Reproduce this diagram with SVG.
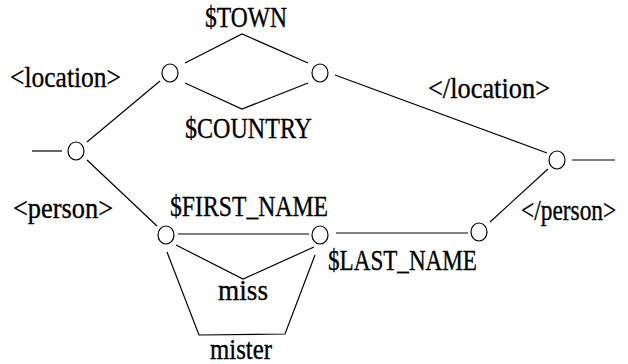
<svg xmlns="http://www.w3.org/2000/svg" width="628" height="364" viewBox="0 0 628 364">
  <style>
    .edge { fill: none; stroke: #000; stroke-width: 1.2; stroke-linejoin: miter; }
    .state { fill: #fff; stroke: #000; stroke-width: 1.2; }
    .lbl { font-family: "Liberation Serif", "Times New Roman", serif; font-size: 30px; fill: #000; stroke: #000; stroke-width: 0.35; }
  </style>
  <rect width="628" height="364" fill="#fff"/>

  <!-- transitions -->
  <g id="connectors">
    <line class="edge" x1="32" y1="151" x2="62" y2="151"/>
    <line class="edge" x1="87" y1="142" x2="160" y2="81"/>
    <polyline class="edge" points="185,63 242,34 308,63"/>
    <polyline class="edge" points="185,83 242,109 308,83"/>
    <line class="edge" x1="335" y1="75" x2="547" y2="153"/>
    <line class="edge" x1="572" y1="160" x2="615" y2="160"/>
    <line class="edge" x1="87" y1="160" x2="157" y2="226"/>
    <line class="edge" x1="178" y1="234" x2="309" y2="234"/>
    <polyline class="edge" points="176,245 243,279 314,247"/>
    <polyline class="edge" points="167,252 199,335 285,334 315,255"/>
    <line class="edge" x1="336" y1="233" x2="468" y2="233"/>
    <line class="edge" x1="490" y1="222" x2="548" y2="169"/>
  </g>

  <!-- states -->
  <g id="s0"><ellipse class="state" cx="76" cy="151" rx="8" ry="9"/></g>
  <g id="s1"><ellipse class="state" cx="170" cy="73" rx="8" ry="9"/></g>
  <g id="s2"><ellipse class="state" cx="320" cy="73" rx="8" ry="9"/></g>
  <g id="s3"><ellipse class="state" cx="557" cy="160" rx="8" ry="9"/></g>
  <g id="s4"><ellipse class="state" cx="479" cy="232" rx="8" ry="9"/></g>
  <g id="s5"><ellipse class="state" cx="166" cy="235" rx="8" ry="9"/></g>
  <g id="s6"><ellipse class="state" cx="320" cy="235" rx="8" ry="9"/></g>

  <!-- labels -->
  <g id="labels">
    <text class="lbl" x="10" y="87" textLength="111" lengthAdjust="spacingAndGlyphs">&lt;location&gt;</text>
    <text class="lbl" x="205" y="27" textLength="82" lengthAdjust="spacingAndGlyphs">$TOWN</text>
    <text class="lbl" x="185" y="138" textLength="127" lengthAdjust="spacingAndGlyphs">$COUNTRY</text>
    <text class="lbl" x="428" y="98" textLength="122" lengthAdjust="spacingAndGlyphs">&lt;/location&gt;</text>
    <text class="lbl" x="13" y="218" textLength="100" lengthAdjust="spacingAndGlyphs">&lt;person&gt;</text>
    <text class="lbl" x="170" y="216" textLength="158" lengthAdjust="spacingAndGlyphs">$FIRST_NAME</text>
    <text class="lbl" x="328" y="270" textLength="149" lengthAdjust="spacingAndGlyphs">$LAST_NAME</text>
    <text class="lbl" transform="translate(521,220) scale(0.78,1)">&lt;/person&gt;</text>
    <text class="lbl" x="218" y="300" textLength="50" lengthAdjust="spacingAndGlyphs">miss</text>
    <text class="lbl" x="210" y="359" textLength="62" lengthAdjust="spacingAndGlyphs">mister</text>
  </g>
</svg>
